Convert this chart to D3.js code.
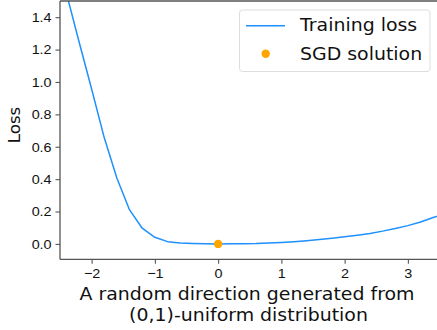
<!DOCTYPE html>
<html>
<head>
<meta charset="utf-8">
<script src="https://cdn.jsdelivr.net/npm/d3@7/dist/d3.min.js"></script>
<style>
  html, body { margin: 0; padding: 0; background: #fff; }
  svg { display: block; font-family: "DejaVu Sans", sans-serif; }
</style>
</head>
<body>
<svg id="chart" width="437" height="330"></svg>
<script>
// Loss sampled along a random direction from the SGD solution
const alphas = [-2.6, -2.4, -2.2, -2.0, -1.8, -1.6, -1.4, -1.2, -1.0, -0.8, -0.6, -0.4, -0.2,
                0.0, 0.2, 0.4, 0.6, 0.8, 1.0, 1.2, 1.4, 1.6, 1.8, 2.0, 2.2, 2.4, 2.6, 2.8, 3.0, 3.2, 3.4, 3.6];
const losses = [1.85, 1.55, 1.25, 0.957, 0.655, 0.406, 0.21, 0.097, 0.041, 0.014, 0.006, 0.003, 0.001,
                0.0, 0.0005, 0.001, 0.002, 0.005, 0.009, 0.014, 0.02, 0.027, 0.035, 0.044, 0.054, 0.065, 0.079, 0.095, 0.113, 0.135, 0.163, 0.19];
const sgdPoint = [0.0, 0.0];
const xTicks = [-2, -1, 0, 1, 2, 3];
const yTicks = [0.0, 0.2, 0.4, 0.6, 0.8, 1.0, 1.2, 1.4];
const legendLabels = ["Training loss", "SGD solution"];
const xLabelLines = ["A random direction generated from", "(0,1)-uniform distribution"];
const yLabel = "Loss";

const lineColor = "#1e90ff";
const dotColor = "#ffa500";
const axisColor = "#555";
const textColor = "#111";
const wide = 1.1;   // horizontal stretch applied to text glyphs

const svg = d3.select("#chart");
const L = 60, R = 439.5, T = 1, B = 259.3;

const x = d3.scaleLinear().domain([-2.5, 3.5]).range([L, R]);
const y = d3.scaleLinear().domain([-0.095, 1.5]).range([B, T]);

svg.append("defs").append("clipPath").attr("id", "plotclip")
  .append("rect").attr("x", L).attr("y", T).attr("width", R - L).attr("height", B - T);

const plot = svg.append("g").attr("clip-path", "url(#plotclip)");

const line = d3.line().x((d, i) => x(alphas[i])).y(d => y(d));
plot.append("path")
  .datum(losses)
  .attr("d", line)
  .attr("fill", "none")
  .attr("stroke", lineColor)
  .attr("stroke-width", 1.5)
  .attr("stroke-linejoin", "round");

plot.append("circle")
  .attr("cx", x(sgdPoint[0]))
  .attr("cy", y(sgdPoint[1]))
  .attr("r", 4.2)
  .attr("fill", dotColor);

// Axes
const xAxis = d3.axisBottom(x).tickValues(xTicks).tickSize(4.5).tickPadding(4.5)
  .tickFormat(d => d < 0 ? "\u2212" + Math.abs(d) : String(d));
const gx = svg.append("g").attr("transform", `translate(0,${B})`).call(xAxis);
gx.select(".domain").remove();
gx.selectAll(".tick line").attr("stroke", axisColor).attr("stroke-width", 1.1);
gx.selectAll(".tick text").attr("fill", textColor).style("font-size", "13.7px")
  .attr("transform", "scale(1.05,1)");

const yAxis = d3.axisLeft(y).tickValues(yTicks).tickSize(4.5).tickPadding(3.5)
  .tickFormat(d3.format(".1f"));
const gy = svg.append("g").attr("transform", `translate(${L},0)`).call(yAxis);
gy.select(".domain").remove();
gy.selectAll(".tick line").attr("stroke", axisColor).attr("stroke-width", 1.1);
gy.selectAll(".tick text").attr("fill", textColor).style("font-size", "13.7px")
  .attr("transform", "scale(1.05,1)");

// Spines
const spines = svg.append("g").attr("stroke", axisColor).attr("stroke-width", 1.3).attr("fill", "none");
spines.append("line").attr("x1", L).attr("x2", L).attr("y1", T).attr("y2", B);
spines.append("line").attr("x1", L).attr("x2", R).attr("y1", B).attr("y2", B);
spines.append("line").attr("x1", L).attr("x2", R).attr("y1", T).attr("y2", T);
spines.append("line").attr("x1", R).attr("x2", R).attr("y1", T).attr("y2", B);

// Axis labels
function label(px, py, str, size, extra) {
  return svg.append("text")
    .attr("transform", `translate(${px},${py}) ${extra || ""} scale(${wide},1)`)
    .attr("text-anchor", "middle").style("font-size", size + "px").attr("fill", textColor)
    .text(str);
}
label(247, 299.5, xLabelLines[0], 17.2);
label(248.5, 320.5, xLabelLines[1], 17.2);
svg.append("text")
  .attr("transform", `translate(19.5,125) rotate(-90)`)
  .attr("text-anchor", "middle").style("font-size", "16.6px").attr("fill", textColor)
  .text(yLabel);

// Legend
const lg = svg.append("g");
lg.append("rect")
  .attr("x", 239.5).attr("y", 10).attr("width", 190.5).attr("height", 61.5)
  .attr("rx", 3).attr("fill", "#fff").attr("fill-opacity", 0.8)
  .attr("stroke", "#ddd").attr("stroke-width", 1);
lg.append("line")
  .attr("x1", 246).attr("x2", 285).attr("y1", 25.7).attr("y2", 25.7)
  .attr("stroke", lineColor).attr("stroke-width", 1.5);
lg.append("circle").attr("cx", 265.7).attr("cy", 53.7).attr("r", 4.2).attr("fill", dotColor);
[legendLabels[0], legendLabels[1]].forEach((t, i) => {
  lg.append("text")
    .attr("transform", `translate(300,${i === 0 ? 31 : 60}) scale(${wide},1)`)
    .style("font-size", "17.2px").attr("fill", textColor).text(t);
});
</script>
</body>
</html>
